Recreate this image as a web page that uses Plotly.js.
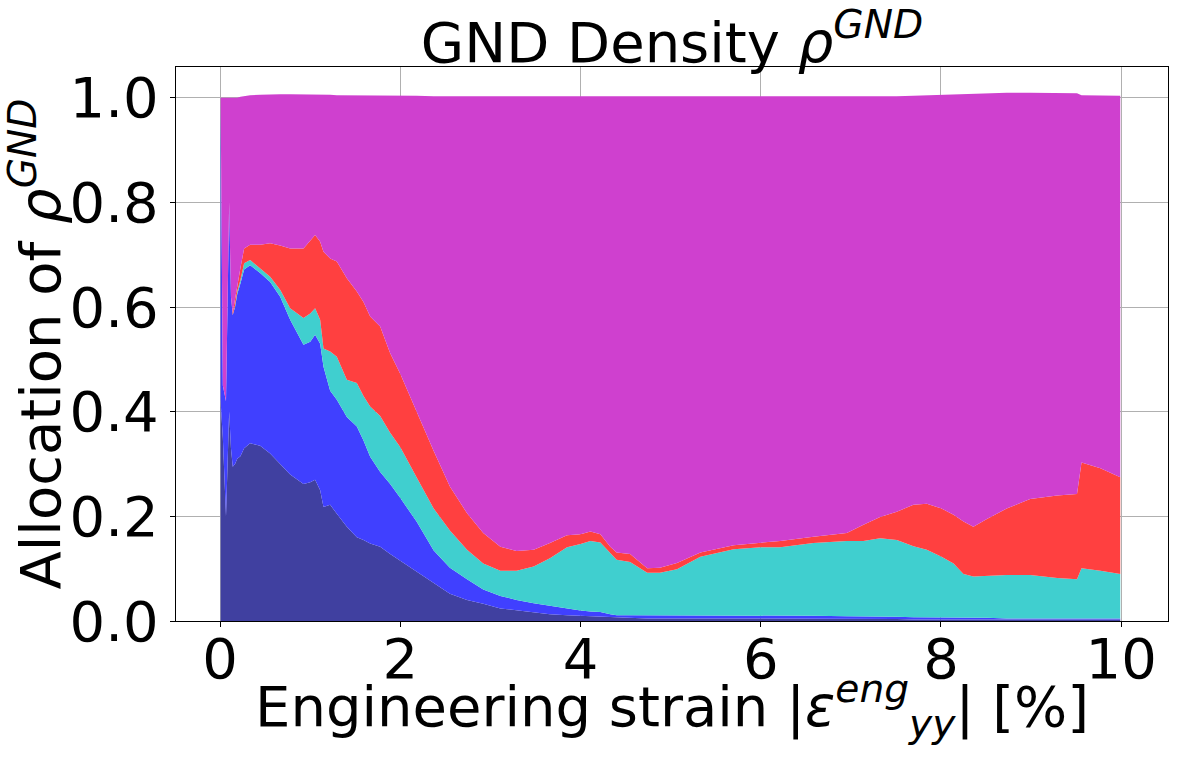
<!DOCTYPE html>
<html>
<head>
<meta charset="utf-8">
<script src="https://cdn.plot.ly/plotly-3.0.1.min.js"></script>
<style>
  html, body { margin: 0; padding: 0; background: #fff; }
  #gnd { width: 1178px; height: 765px; }
</style>
</head>
<body>
<div id="gnd"></div>
<script>
// engineering strain [%]
var strain = [0.005, 0.03, 0.065, 0.085, 0.10, 0.12, 0.14, 0.165, 0.19, 0.225,
  0.266, 0.333, 0.444, 0.555, 0.666, 0.777, 0.925, 1.0, 1.054, 1.11,
  1.147, 1.221, 1.295, 1.406, 1.517, 1.591, 1.665, 1.776, 1.887, 2.0,
  2.18, 2.37, 2.55, 2.74, 2.92, 3.11, 3.29, 3.48, 3.66, 3.85,
  4.0, 4.11, 4.22, 4.33, 4.4, 4.55, 4.74, 4.88, 5.07, 5.33,
  5.7, 6.0, 6.215, 6.585, 6.955, 7.14, 7.325, 7.51, 7.695, 7.843,
  8.006, 8.14, 8.25, 8.36, 8.51, 8.73, 8.99, 9.29, 9.51, 9.56,
  9.77, 9.99];

// share of rho_GND per group (stacked bottom to top)
var darkBlue = [0.42, 0.35, 0.20, 0.32, 0.40, 0.33, 0.295, 0.30, 0.31, 0.315,
  0.33, 0.34, 0.335, 0.32, 0.30, 0.28, 0.262, 0.265, 0.27, 0.25,
  0.218, 0.222, 0.205, 0.18, 0.16, 0.155, 0.148, 0.142, 0.128, 0.115,
  0.094, 0.072, 0.052, 0.04, 0.033, 0.024, 0.02, 0.016, 0.013, 0.011,
  0.01, 0.009, 0.008, 0.007, 0.006, 0.005, 0.005, 0.005, 0.005, 0.005,
  0.005, 0.004, 0.004, 0.004, 0.004, 0.004, 0.004, 0.004, 0.003, 0.003,
  0.003, 0.003, 0.003, 0.003, 0.003, 0.003, 0.003, 0.003, 0.003, 0.003,
  0.003, 0.003];
var blue = [0.58, 0.10, 0.22, 0.30, 0.40, 0.29, 0.29, 0.30, 0.315, 0.33,
  0.342, 0.34, 0.33, 0.328, 0.32, 0.296, 0.266, 0.269, 0.277, 0.28,
  0.268, 0.218, 0.218, 0.21, 0.212, 0.19, 0.166, 0.143, 0.134, 0.12,
  0.096, 0.063, 0.05, 0.04, 0.027, 0.024, 0.02, 0.018, 0.016, 0.013,
  0.01, 0.009, 0.009, 0.006, 0.005, 0.006, 0.006, 0.006, 0.006, 0.006,
  0.006, 0.006, 0.006, 0.006, 0.005, 0.005, 0.004, 0.004, 0.004, 0.004,
  0.004, 0.003, 0.003, 0.003, 0.003, 0.002, 0.002, 0.002, 0.002, 0.003,
  0.002, 0.002];
var turquoise = [0, 0, 0, 0, 0, 0, 0, 0.003, 0.005, 0.007,
  0.012, 0.01, 0.009, 0.01, 0.013, 0.022, 0.051, 0.054, 0.051, 0.046,
  0.035, 0.075, 0.082, 0.071, 0.083, 0.085, 0.096, 0.107, 0.098, 0.097,
  0.085, 0.08, 0.071, 0.056, 0.05, 0.048, 0.056, 0.07, 0.091, 0.117,
  0.127, 0.135, 0.133, 0.116, 0.106, 0.102, 0.081, 0.081, 0.088, 0.112,
  0.126, 0.131, 0.131, 0.139, 0.144, 0.144, 0.15, 0.147, 0.136, 0.129,
  0.116, 0.104, 0.084, 0.079, 0.08, 0.083, 0.083, 0.077, 0.075, 0.095,
  0.091, 0.085];
var red = [0, 0, 0, 0, 0, 0, 0.005, 0.012, 0.012, 0.023,
  0.028, 0.029, 0.045, 0.064, 0.085, 0.114, 0.133, 0.14, 0.14, 0.149,
  0.185, 0.178, 0.182, 0.194, 0.175, 0.18, 0.172, 0.171, 0.152, 0.14,
  0.125, 0.11, 0.084, 0.07, 0.058, 0.046, 0.038, 0.032, 0.029, 0.023,
  0.019, 0.018, 0.016, 0.013, 0.014, 0.015, 0.009, 0.01, 0.012, 0.008,
  0.008, 0.009, 0.012, 0.012, 0.015, 0.031, 0.041, 0.054, 0.079, 0.088,
  0.092, 0.093, 0.10, 0.095, 0.109, 0.127, 0.145, 0.158, 0.163, 0.202,
  0.196, 0.185];
var magenta = [0, 0.55, 0.58, 0.38, 0.20, 0.38, 0.41, 0.385, 0.358, 0.327,
  0.291, 0.286, 0.287, 0.285, 0.289, 0.295, 0.295, 0.279, 0.269, 0.282,
  0.30, 0.313, 0.318, 0.35, 0.375, 0.395, 0.423, 0.441, 0.492, 0.532,
  0.604, 0.678, 0.746, 0.797, 0.834, 0.86, 0.868, 0.866, 0.853, 0.838,
  0.836, 0.831, 0.836, 0.86, 0.871, 0.874, 0.901, 0.90, 0.891, 0.871,
  0.857, 0.852, 0.849, 0.841, 0.834, 0.818, 0.803, 0.794, 0.782, 0.781,
  0.791, 0.804, 0.818, 0.828, 0.814, 0.795, 0.777, 0.77, 0.766, 0.702,
  0.713, 0.729];

var layers = [darkBlue, blue, turquoise, red, magenta];
var colors = ['#4040a0', '#4040ff', '#40cfcf', '#ff4040', '#cf40cf'];

var data = layers.map(function (vals, i) {
  return {
    x: strain,
    y: vals,
    type: 'scatter',
    mode: 'lines',
    stackgroup: 'gnd',
    line: {width: 0, color: colors[i]},
    fillcolor: colors[i],
    hoverinfo: 'x+y'
  };
});

var axisFont = {family: 'DejaVu Sans', size: 56, color: '#000'};
var labelFont = {family: 'DejaVu Sans', size: 56, color: '#000'};

var layout = {
  width: 1178,
  height: 765,
  showlegend: false,
  paper_bgcolor: '#fff',
  plot_bgcolor: '#fff',
  font: {family: 'DejaVu Sans', color: '#000'},
  margin: {l: 176, r: 10, t: 67, b: 144},
  title: {
    text: 'GND Density <i>ρ</i><sup><i>GND</i></sup>',
    font: labelFont,
    x: 0.5, xref: 'paper',
    y: 1, yref: 'paper', yanchor: 'bottom',
    pad: {b: 5}
  },
  xaxis: {
    range: [-0.49, 10.52],
    tickvals: [0, 2, 4, 6, 8, 10],
    tickfont: axisFont,
    ticks: 'outside', ticklen: 5, tickcolor: '#000',
    ticklabelstandoff: -16,
    showline: true, linecolor: '#000', linewidth: 1.2, mirror: true,
    showgrid: true, gridcolor: '#b0b0b0', gridwidth: 1,
    zeroline: false,
    layer: 'above traces'
  },
  yaxis: {
    range: [0, 1.059],
    tickvals: [0, 0.2, 0.4, 0.6, 0.8, 1.0],
    tickformat: '.1f',
    tickfont: axisFont,
    ticks: 'outside', ticklen: 5, tickcolor: '#000',
    showline: true, linecolor: '#000', linewidth: 1.2, mirror: true,
    showgrid: true, gridcolor: '#b0b0b0', gridwidth: 1,
    zeroline: false,
    layer: 'above traces',
    title: {
      text: 'Allocation of <i>ρ</i><sup><i>GND</i></sup>',
      font: labelFont,
      standoff: 2
    }
  },
  annotations: [{
    // x axis label, placed by hand to sit as close to the ticks as the reference
    text: 'Engineering strain |<i>ε</i><sup><i>eng</i></sup><sub><i>yy</i></sub>| [%]',
    font: labelFont,
    xref: 'paper', x: 0.5, xanchor: 'center',
    yref: 'paper', y: 0, yanchor: 'top',
    yshift: -43,
    showarrow: false
  }]
};

Plotly.newPlot('gnd', data, layout, {displayModeBar: false, staticPlot: true});
</script>
</body>
</html>
